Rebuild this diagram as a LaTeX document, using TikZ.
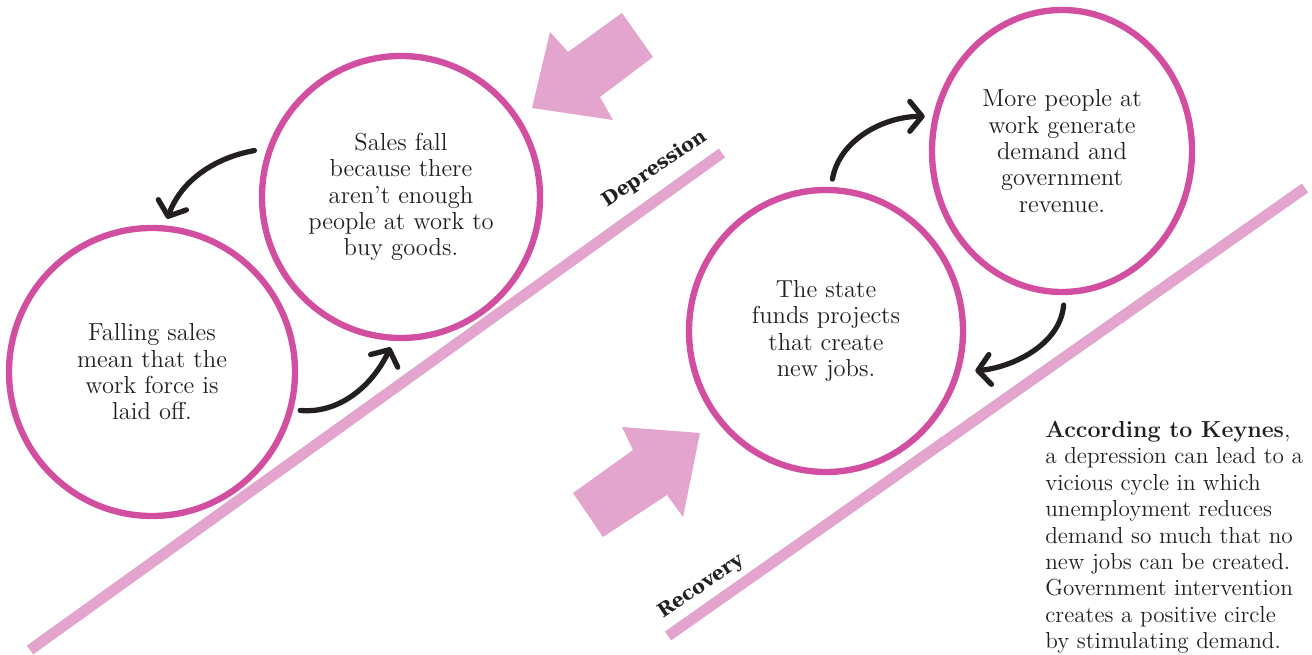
\documentclass[tikz,border=0pt]{standalone}
\usepackage{fontspec}
\usetikzlibrary{shapes.geometric,arrows.meta}
\newfontfamily\slabfont{DejaVu Serif}

\definecolor{ringpink}{RGB}{210,78,160}
\definecolor{softpink}{RGB}{227,165,205}
\definecolor{inkgray}{RGB}{35,31,32}

\tikzset{
  ringnode/.style={ellipse, draw=ringpink, line width=3.6pt, inner sep=0pt,
    align=center, text=inkgray, font=\fontsize{14}{15}\selectfont},
  curlarrow/.style={-{Straight Barb[round,length=7pt,width=17pt]}, line width=3pt,
    line cap=round, draw=inkgray},
  rampline/.style={softpink, line width=6.2pt},
  phaselabel/.style={font=\slabfont\bfseries\fontsize{11}{13}\selectfont, rotate=34, text=inkgray}
}

\begin{document}
\begin{tikzpicture}[x=0.2mm, y=0.2mm]
\useasboundingbox (0,0) rectangle (1312,655);

% Slopes
\draw[rampline] (30,5) -- (722,502);
\draw[rampline] (668,19) -- (1305,467);

% Big arrows
\fill[softpink] (532,547) -- (550,623) -- (568,603) -- (622,642) -- (653,598) -- (600,558) -- (613,535) -- cycle;
\fill[softpink] (700,222) -- (622,228) -- (633,205) -- (573,162) -- (603,118) -- (667,160) -- (683,138) -- cycle;

% Vicious circle
\node[ringnode, minimum width=55.6mm, minimum height=56.4mm] (sales) at (401,458)
  {Sales fall\\because there\\aren't enough\\people at work to\\buy goods.};
\node[ringnode, minimum width=57.2mm, minimum height=57.6mm] (fall) at (152,283)
  {Falling sales\\mean that the\\work force is\\laid off.};

% Positive circle
\node[ringnode, minimum width=54.8mm, minimum height=56.4mm] (state) at (826,324)
  {The state\\funds projects\\that create\\new jobs.};
\node[ringnode, minimum width=52mm, minimum height=56.4mm] (more) at (1062,504)
  {More people at\\work generate\\demand and\\government\\revenue.};

% Slope labels
\node[phaselabel] (dep) at (655,486) {Depression};
\node[phaselabel] (rec) at (701,68) {Recovery};

% Curl arrows
\draw[curlarrow, shorten <=2.6mm, shorten >=1.4mm] (sales.160) to[out=190, in=70] (fall.85);
\draw[curlarrow, shorten <=1.4mm, shorten >=1.4mm] (fall.-15) to[out=-5, in=245] (sales.267);
\draw[curlarrow, shorten <=1.6mm, shorten >=1.6mm] (state.88) to[out=80, in=180] (more.165);
\draw[curlarrow, shorten <=2mm, shorten >=3mm] (more.271) to[out=265, in=5] (state.-17);

% Caption
\node[anchor=north west, align=left, inner sep=0pt, text=inkgray,
  font=\fontsize{13.2}{15}\selectfont] (keynes) at (1045,234)
  {\textbf{According to Keynes},\\a depression can lead to a\\vicious cycle in which\\unemployment reduces\\demand so much that no\\new jobs can be created.\\Government intervention\\creates a positive circle\\by stimulating demand.};

\end{tikzpicture}
\end{document}
